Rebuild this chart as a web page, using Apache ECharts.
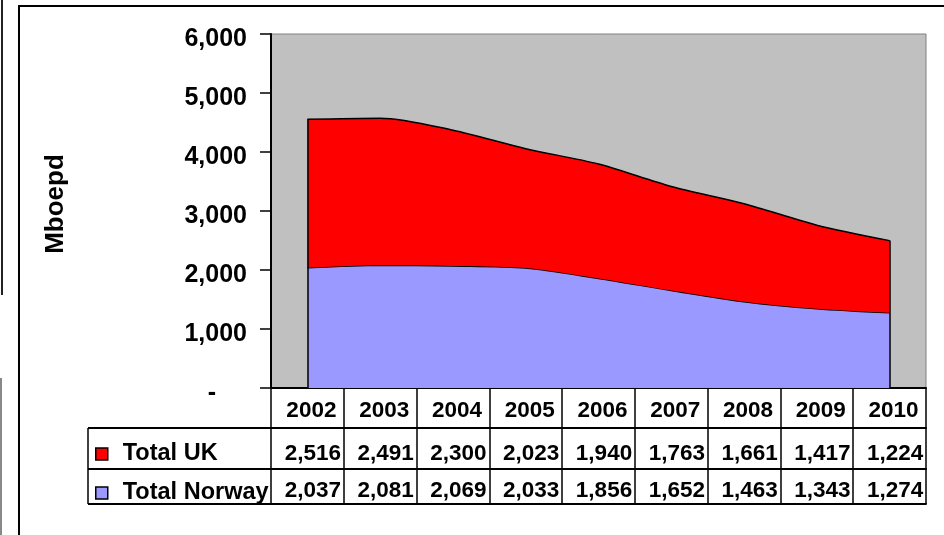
<!DOCTYPE html>
<html>
<head>
<meta charset="utf-8">
<script src="https://cdn.jsdelivr.net/npm/echarts@6/dist/echarts.min.js"></script>
<style>
  html, body { margin: 0; padding: 0; background: #fff; }
  #main { width: 944px; height: 535px; }
</style>
</head>
<body>
<div id="main"></div>
<script>
var years = ['2002', '2003', '2004', '2005', '2006', '2007', '2008', '2009', '2010'];
var ukValues = [2516, 2491, 2300, 2023, 1940, 1763, 1661, 1417, 1224];
var norwayValues = [2037, 2081, 2069, 2033, 1856, 1652, 1463, 1343, 1274];
var yMin = 0, yMax = 6000, yStep = 1000;

function fmt(v) {
  return v === 0 ? '-' : Number(v).toLocaleString('en-US');
}

var font = '"Liberation Sans", Arial, sans-serif';
var totals = years.map(function (y, i) { return ukValues[i] + norwayValues[i]; });
var last = years.length - 1;

// extra bottom axes that act as the rows of the data table
function tableAxis(values, offset, margin) {
  return {
    type: 'category',
    position: 'bottom',
    offset: offset,
    data: values.map(fmt),
    axisLine: { show: true, lineStyle: { color: '#000', width: 2 } },
    axisTick: { show: false },
    axisLabel: {
      show: true, interval: 0, margin: margin,
      color: '#000', fontFamily: font, fontWeight: 'bold', fontSize: 22.5,
      padding: [0, 0, 0, 11]
    },
    splitLine: { show: false }
  };
}

var legendBorder = { borderColor: '#000', borderWidth: 1.5 };
var yLabelStyle = { color: '#000', fontFamily: font, fontWeight: 'bold', fontSize: 25 };

var myChart = echarts.init(document.getElementById('main'));
myChart.setOption({
  animation: false,
  backgroundColor: '#fff',
  grid: {
    left: 271, top: 34, width: 655, height: 354,
    show: true, backgroundColor: '#C0C0C0', borderColor: '#808080', borderWidth: 1
  },
  legend: {
    orient: 'vertical',
    left: 95, top: 442,
    padding: 0,
    data: [
      { name: 'Total UK', icon: 'rect', itemStyle: legendBorder },
      { name: 'Total Norway', icon: 'rect', itemStyle: legendBorder }
    ],
    itemWidth: 12, itemHeight: 12,
    itemGap: 15,
    itemStyle: legendBorder,
    textStyle: {
      color: '#000', fontFamily: font, fontWeight: 'bold', fontSize: 23.5,
      lineHeight: 22, padding: [0, 0, 0, 10]
    },
    selectedMode: false
  },
  xAxis: [
    {
      type: 'category',
      position: 'bottom',
      data: years,
      boundaryGap: true,
      axisLine: { show: true, lineStyle: { color: '#000', width: 2 } },
      axisTick: { show: true, interval: 0, length: 116, lineStyle: { color: '#000', width: 1.5 } },
      axisLabel: {
        interval: 0, margin: 11,
        color: '#000', fontFamily: font, fontWeight: 'bold', fontSize: 22.5,
        padding: [0, 0, 0, 8]
      },
      splitLine: { show: false }
    },
    tableAxis(ukValues, 40, 14),
    tableAxis(norwayValues, 81, 10),
    {
      type: 'category', position: 'bottom', offset: 116, data: years,
      axisLine: { show: true, lineStyle: { color: '#000', width: 2 } },
      axisTick: { show: false }, axisLabel: { show: false }, splitLine: { show: false }
    }
  ],
  yAxis: {
    type: 'value',
    min: yMin, max: yMax, interval: yStep,
    name: 'Mboepd',
    nameLocation: 'middle',
    nameRotate: 90,
    nameGap: 202,
    nameTextStyle: {
      color: '#000', fontFamily: font, fontWeight: 'bold', fontSize: 26,
      padding: [0, 0, 0, 14]
    },
    axisLine: { show: true, lineStyle: { color: '#000', width: 2 } },
    axisTick: { show: true, length: 11, lineStyle: { color: '#000', width: 1.5 } },
    axisLabel: {
      formatter: function (v) {
        return v === 0 ? '{dash|-}' : fmt(v);
      },
      margin: 24,
      color: '#000', fontFamily: font, fontWeight: 'bold', fontSize: 25,
      verticalAlign: 'top', lineHeight: 10,
      rich: {
        dash: Object.assign({ padding: [0, 31, 0, 0], lineHeight: 10 }, yLabelStyle)
      }
    },
    splitLine: { show: false }
  },
  series: [
    {
      name: 'Total Norway',
      type: 'line',
      stack: 'total',
      data: norwayValues,
      smooth: 0.3,
      symbol: 'none',
      itemStyle: { color: '#9999FF' },
      lineStyle: { color: '#000', width: 1.5 },
      areaStyle: { color: '#9999FF', opacity: 1 },
      z: 2
    },
    {
      name: 'Total UK',
      type: 'line',
      stack: 'total',
      data: ukValues,
      smooth: 0.3,
      symbol: 'none',
      itemStyle: { color: '#FF0000' },
      lineStyle: { color: '#000', width: 1.5 },
      areaStyle: { color: '#FF0000', opacity: 1 },
      markLine: {
        silent: true,
        symbol: 'none',
        label: { show: false },
        lineStyle: { color: '#000', width: 1.5, type: 'solid' },
        data: [
          [{ coord: [years[0], 0] }, { coord: [years[0], totals[0]] }],
          [{ coord: [years[last], 0] }, { coord: [years[last], totals[last]] }]
        ]
      },
      z: 3
    }
  ],
  graphic: [
    // outer chart frame
    { type: 'rect', shape: { x: 19, y: 6, width: 940, height: 540 }, style: { fill: null, stroke: '#000', lineWidth: 2 }, silent: true },
    // page edge remnants at the far left
    { type: 'line', shape: { x1: 2, y1: 0, x2: 2, y2: 295 }, style: { stroke: '#222', lineWidth: 2 }, silent: true },
    { type: 'line', shape: { x1: 1, y1: 378, x2: 1, y2: 535 }, style: { stroke: '#888', lineWidth: 2 }, silent: true },
    // legend column of the data table
    { type: 'line', shape: { x1: 88, y1: 428, x2: 271, y2: 428 }, style: { stroke: '#000', lineWidth: 2 }, silent: true },
    { type: 'line', shape: { x1: 88, y1: 469, x2: 271, y2: 469 }, style: { stroke: '#000', lineWidth: 2 }, silent: true },
    { type: 'line', shape: { x1: 88, y1: 504, x2: 271, y2: 504 }, style: { stroke: '#000', lineWidth: 2 }, silent: true },
    { type: 'line', shape: { x1: 88, y1: 428, x2: 88, y2: 504 }, style: { stroke: '#000', lineWidth: 1.5 }, silent: true }
  ]
});
</script>
</body>
</html>
